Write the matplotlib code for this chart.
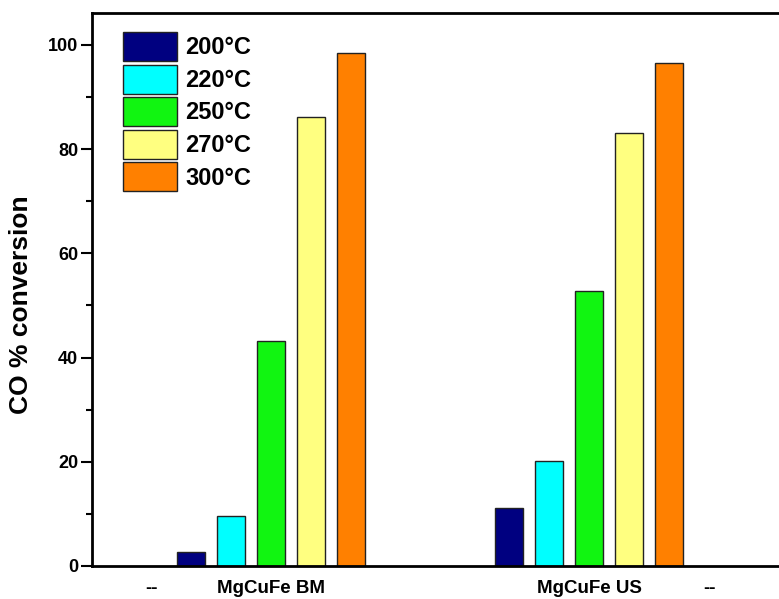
import matplotlib
matplotlib.use("Agg")
import matplotlib.pyplot as plt
import numpy as np

# data
samples = ["MgCuFe BM", "MgCuFe US"]
temperatures = ["200°C", "220°C", "250°C", "270°C", "300°C"]
bm_conv = [2.6, 9.5, 43.2, 86.2, 98.4]
us_conv = [11.2, 20.2, 52.8, 83.0, 96.6]
tick_labels = ["--", "MgCuFe BM", "MgCuFe US", "--"]

colors = ["#000080", "#00FFFF", "#11F511", "#FFFF80", "#FF8000"]

plt.rcParams['font.family'] = ['Liberation Sans', 'DejaVu Sans']
plt.rcParams['font.weight'] = 'bold'

fig = plt.figure(figsize=(7.79, 5.99), dpi=100)
ax = fig.add_axes([92 / 779, 33 / 599, 1 - 92 / 779, (566 - 13) / 599])

# group layout (1 unit = bar pitch)
group_centers = np.array([4.475, 12.425])
tick_pos = [1.5, group_centers[0], group_centers[1], 15.45]
offsets = np.arange(len(temperatures)) - 2
bar_w = 0.7

values = np.array([bm_conv, us_conv])
for i, temp in enumerate(temperatures):
    ax.bar(group_centers + offsets[i], values[:, i], width=bar_w,
           color=colors[i], edgecolor='#222222', linewidth=1.0, label=temp)

ax.set_xlim(0, (779 - 92) / 40)
ax.set_ylim(0, 106.1)
ax.set_xticks(tick_pos)
ax.set_xticklabels(tick_labels, fontsize=13.5, fontweight='bold')
ax.tick_params(axis='x', length=0, pad=10)

ax.set_yticks(np.arange(0, 101, 20))
ax.set_yticks(np.arange(10, 101, 20), minor=True)
ax.tick_params(axis='y', which='major', direction='out', length=8, width=1.5,
               labelsize=13, pad=2)
ax.tick_params(axis='y', which='minor', direction='out', length=4.5, width=1.5)
for lab in ax.get_yticklabels():
    lab.set_fontweight('bold')

ax.set_ylabel("CO % conversion", fontsize=19, fontweight='bold')
ax.yaxis.set_label_coords(-(92 - 33) / 687, (566 - 305) / 553)

for side in ['left', 'bottom', 'top']:
    ax.spines[side].set_linewidth(2)
ax.spines['right'].set_visible(False)

# legend boxes ~54x29 px, row pitch ~32.5 px
ax.legend(loc='upper left', bbox_to_anchor=(123 / 779, 1 - 32 / 599),
          bbox_transform=fig.transFigure, frameon=False, borderpad=0,
          borderaxespad=0, handlelength=2.29, handleheight=1.514,
          handletextpad=0.34, labelspacing=0.15,
          prop={'size': 17, 'weight': 'bold'})

fig.savefig("out.png", dpi=100)
